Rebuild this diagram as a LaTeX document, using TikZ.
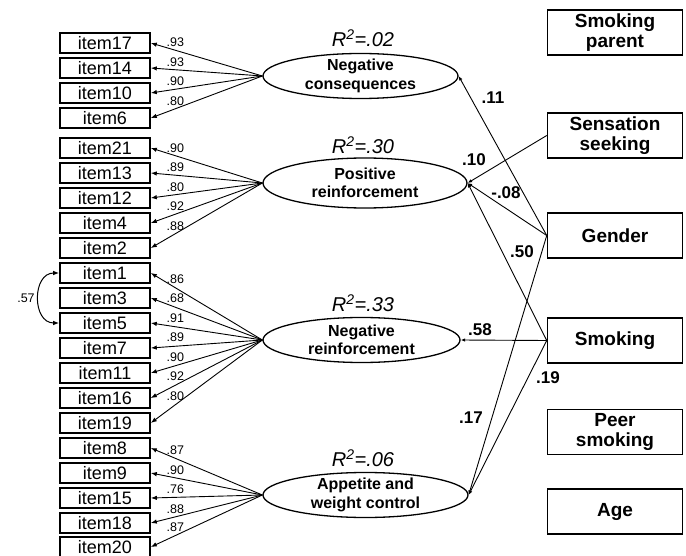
\documentclass[tikz,border=0pt]{standalone}
\usepackage{fontspec}
\setmainfont{Liberation Sans}
\usetikzlibrary{shapes.geometric,arrows.meta}
\begin{document}
\begin{tikzpicture}[x=1pt,y=-1pt,
  item/.style={draw,line width=1.6pt,minimum width=90pt,minimum height=20pt,inner sep=0pt,font=\fontsize{18}{18}\selectfont},
  latent/.style={draw,ellipse,line width=1.3pt,inner xsep=0pt,inner ysep=-4pt,align=center,font=\fontsize{16}{18.5}\bfseries},
  obs/.style={draw,line width=1.5pt,minimum width=135pt,minimum height=45pt,inner sep=0pt,align=center,font=\fontsize{19}{20}\bfseries},
  rsq/.style={font=\fontsize{20}{20}\itshape},
  load/.style={font=\fontsize{12.5}{12}\selectfont,inner sep=1pt},
  coef/.style={font=\fontsize{17}{17}\bfseries},
  arr/.style={line width=0.9pt,-{Latex[length=6pt,width=4.5pt]}},
  sarr/.style={line width=0.9pt,-{Latex[length=4.5pt,width=3.5pt]}},
  cov/.style={line width=1pt,{Latex[length=6pt,width=4.5pt]}-{Latex[length=6pt,width=4.5pt]}},
]
\useasboundingbox (0,0) rectangle (686,556);

% observed items
\foreach \n/\y in {17/43,14/68,10/93,6/118,21/148,13/173,12/198,4/223,2/248,1/273,3/298,5/323,7/348,11/373,16/398,19/423,8/448,9/473,15/498,18/523,20/547}
  \node[item] (i\n) at (105,\y) {item\n};

% latent factors
\node[latent,minimum width=195pt,minimum height=45pt] (NC) at (360.5,76) {Negative\\consequences};
\node[latent,minimum width=204pt,minimum height=50pt] (PR) at (365,183) {Positive\\reinforcement};
\node[latent,minimum width=197pt,minimum height=45pt] (NR) at (361.5,340) {Negative\\reinforcement};
\node[latent,minimum width=205pt,minimum height=45pt] (AW) at (365.5,495) {Appetite and\\weight control};

\node[rsq] (rNC) at (363,38) {R\textsuperscript{2}=.02};
\node[rsq] (rPR) at (363,145) {R\textsuperscript{2}=.30};
\node[rsq] (rNR) at (363,303) {R\textsuperscript{2}=.33};
\node[rsq] (rAW) at (363,458) {R\textsuperscript{2}=.06};

% loadings
\foreach \n/\v in {17/.93,14/.93,10/.90,6/.80}
  \draw[arr] (NC.west) -- node[load,pos=0.78,anchor=south,yshift=2pt]{\v} (i\n.east);
\foreach \n/\v in {21/.90,13/.89,12/.80,4/.92,2/.88}
  \draw[arr] (PR.west) -- node[load,pos=0.78,anchor=south,yshift=2pt]{\v} (i\n.east);
\foreach \n/\v in {1/.86,3/.68,5/.91,7/.89,11/.90,16/.92,19/.80}
  \draw[arr] (NR.west) -- node[load,pos=0.78,anchor=south,yshift=3pt]{\v} (i\n.east);
\foreach \n/\v in {8/.87,9/.90,15/.76,18/.88,20/.87}
  \draw[arr] (AW.west) -- node[load,pos=0.78,anchor=south,yshift=2pt]{\v} (i\n.east);

% covariance
\draw[cov] (i1.west) to[out=180,in=180,looseness=1.4] (i5.west);
\node[load] (c57) at (26,298) {.57};

% predictors
\node[obs] (SP) at (615,32.5) {Smoking\\parent};
\node[obs] (SS) at (615,135.5) {Sensation\\seeking};
\node[obs] (GE) at (615,235.5) {Gender};
\node[obs] (SM) at (615,340.5) {Smoking};
\node[obs] (PS) at (615,432) {Peer\\smoking};
\node[obs] (AG) at (615,511.5) {Age};

% structural paths
\draw[sarr] (GE.west) -- (NC.east);
\draw[sarr] (SS.west) -- (PR.east);
\draw[sarr] (GE.west) -- (PR.east);
\draw[sarr] (SM.west) -- (PR.east);
\draw[sarr] (SM.west) -- (NR.east);
\draw[sarr] (GE.west) -- (AW.east);
\draw[sarr] (SM.west) -- (AW.east);

\node[coef] (p11) at (493,98) {.11};
\node[coef] (p10) at (474,160) {.10};
\node[coef] (p08) at (506,193) {-.08};
\node[coef] (p50) at (522,252) {.50};
\node[coef] (p58) at (480,330) {.58};
\node[coef] (p19) at (548,378) {.19};
\node[coef] (p17) at (471,418) {.17};
\end{tikzpicture}
\end{document}
